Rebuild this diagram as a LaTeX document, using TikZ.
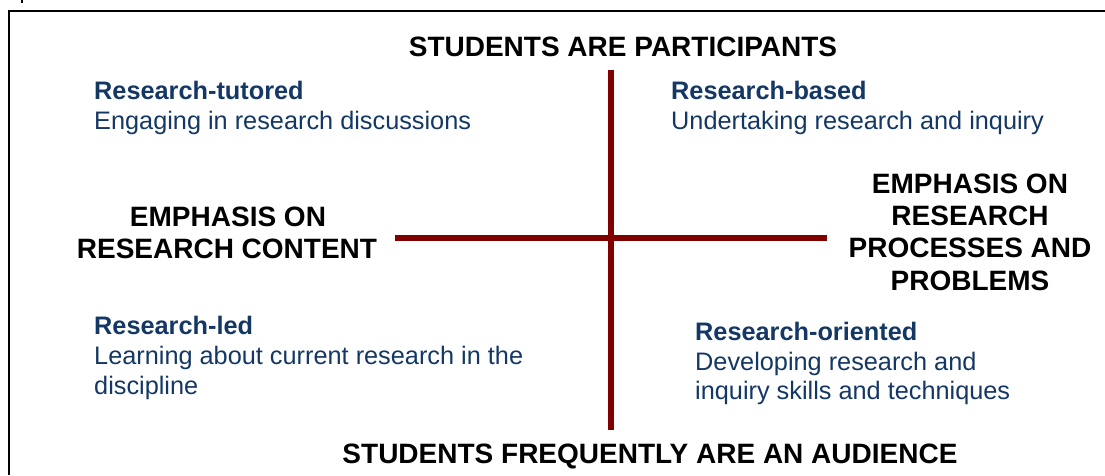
\documentclass[tikz,border=0pt]{standalone}
\usepackage{fontspec}
\setmainfont{Liberation Sans}
\definecolor{quadblue}{RGB}{20,55,100}
\definecolor{axisred}{RGB}{128,0,0}
\tikzset{
  heading/.style={font=\fontsize{28}{32}\selectfont\bfseries, text=black, inner sep=0pt, anchor=base},
  qtitle/.style={font=\fontsize{25.3}{30}\selectfont\bfseries, text=quadblue, inner sep=0pt, anchor=base west},
  qtext/.style={font=\fontsize{25.3}{30}\selectfont, text=quadblue, inner sep=0pt, anchor=base west},
  axis/.style={line width=6pt, draw=axisred},
  frame/.style={line width=2pt, draw=black}
}
\begin{document}
\begin{tikzpicture}[x=1pt, y=-1pt]
\useasboundingbox (0,0) rectangle (1105,475);
% outer frame (open to the right and below)
\draw[frame] (9,475) -- (9,11) -- (1105,11);
\draw[line width=1.5pt] (22,0) -- (22,3);
% axes
\coordinate (top) at (611,70);
\coordinate (bottom) at (611,430);
\coordinate (left) at (395,238);
\coordinate (right) at (827,238);
\draw[axis] (left) -- (right);
\draw[axis] (top) -- (bottom);
% axis labels
\node[heading] (participants) at (623,56) {STUDENTS ARE PARTICIPANTS};
\node[heading] (audience) at (650,463) {STUDENTS FREQUENTLY ARE AN AUDIENCE};
\node[heading] (content1) at (228,226) {EMPHASIS ON};
\node[heading] (content2) at (227,258) {RESEARCH CONTENT};
\node[heading] (process1) at (970,193) {EMPHASIS ON};
\node[heading] (process2) at (970,225) {RESEARCH};
\node[heading] (process3) at (970,257) {PROCESSES AND};
\node[heading] (process4) at (970,290) {PROBLEMS};
% quadrants
\node[qtitle] (tutored) at (94,99) {Research-tutored};
\node[qtext] (tutoredtext) at (94,129) {Engaging in research discussions};
\node[qtitle] (based) at (671,99) {Research-based};
\node[qtext] (basedtext) at (671,129) {Undertaking research and inquiry};
\node[qtitle] (led) at (94,334) {Research-led};
\node[qtext] (ledtext1) at (94,364) {Learning about current research in the};
\node[qtext] (ledtext2) at (94,394) {discipline};
\node[qtitle] (oriented) at (695,340) {Research-oriented};
\node[qtext] (orientedtext1) at (695,370) {Developing research and};
\node[qtext] (orientedtext2) at (695,399) {inquiry skills and techniques};
\end{tikzpicture}
\end{document}
